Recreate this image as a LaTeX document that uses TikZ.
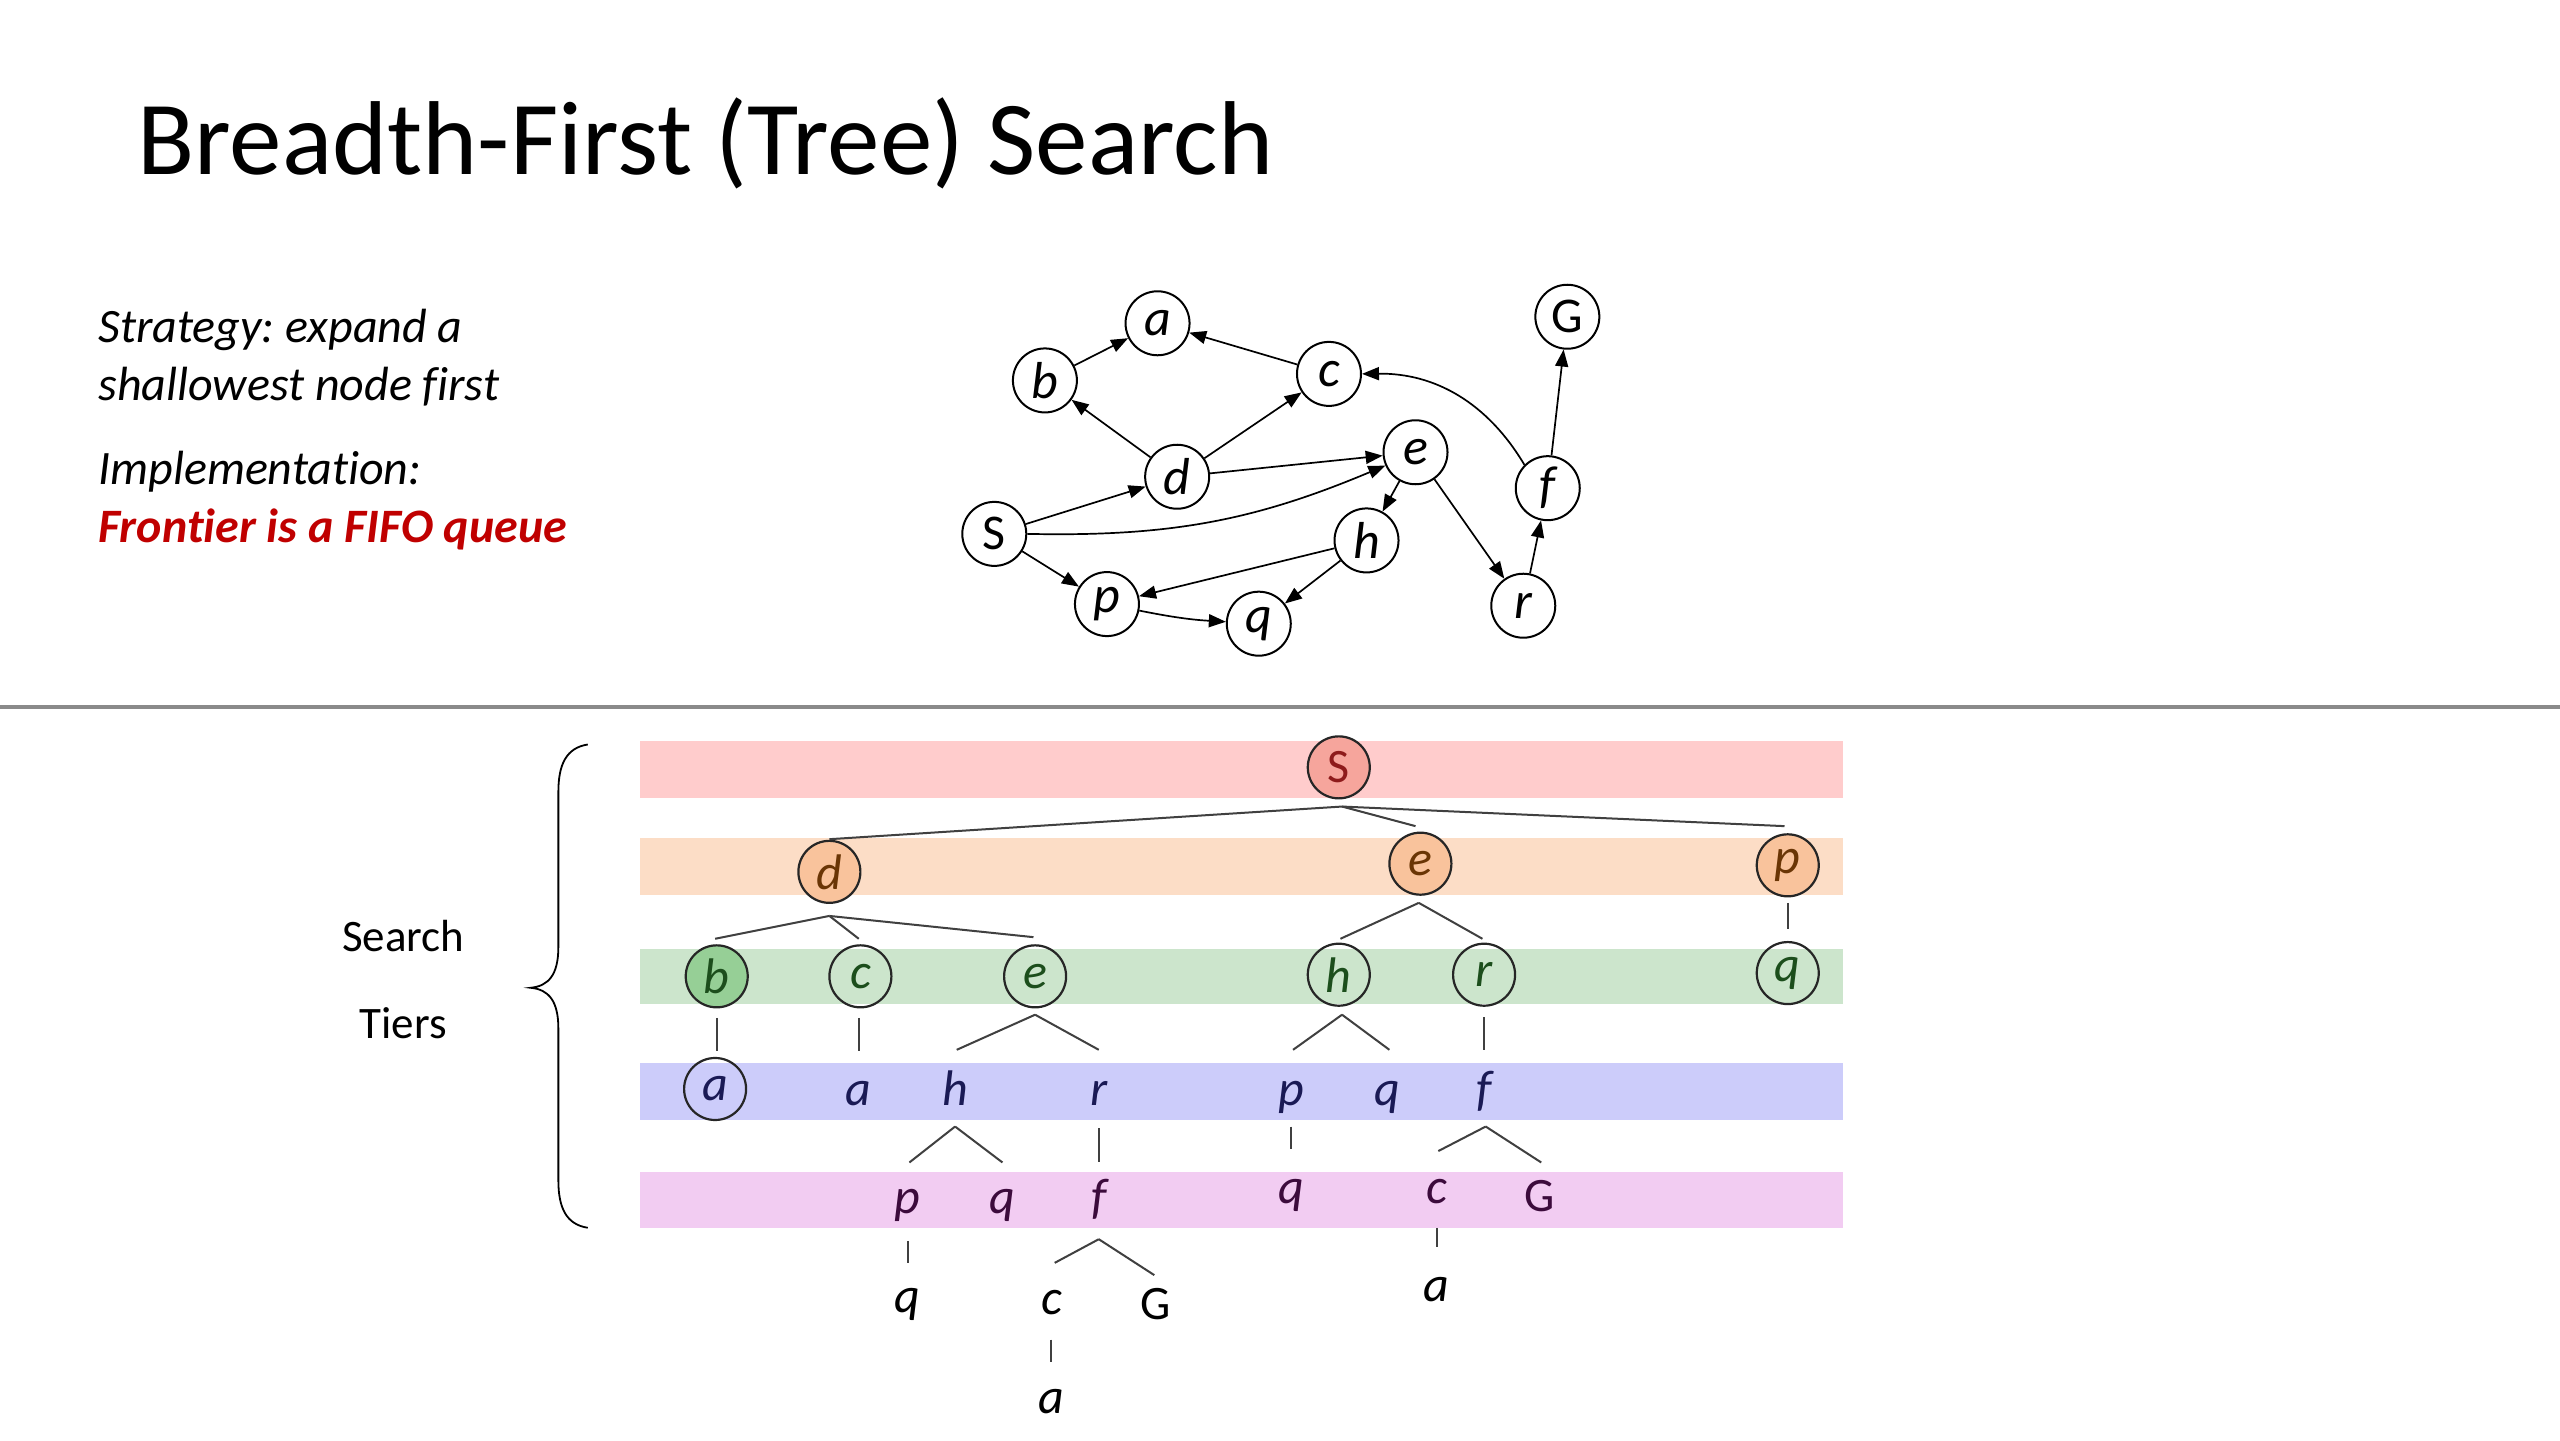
\documentclass[tikz,border=0pt]{standalone}
\usepackage{fontspec}
\setmainfont{Carlito}[Ligatures=NoCommon]
\frenchspacing
\usetikzlibrary{arrows.meta,calc}
\definecolor{bandred}{HTML}{FFCCCC}
\definecolor{bandorange}{HTML}{FCDDC6}
\definecolor{bandgreen}{HTML}{CCE5CC}
\definecolor{bandblue}{HTML}{CCCCFA}
\definecolor{bandpink}{HTML}{F2CCF2}
\definecolor{fillS}{HTML}{F6A59C}
\definecolor{fillO}{HTML}{F9C39C}
\definecolor{fillG}{HTML}{96CF96}
\definecolor{txtS}{HTML}{8E1B1B}
\definecolor{txtO}{HTML}{6A3505}
\definecolor{txtG}{HTML}{1C4E1C}
\definecolor{txtB}{HTML}{1A1A55}
\definecolor{txtP}{HTML}{3C0B3C}
\definecolor{redtxt}{HTML}{C00000}
\definecolor{sepgray}{HTML}{8A8A8A}
\begin{document}
\begin{tikzpicture}[x=0.8163pt,y=-0.8163pt,
  gnode/.style={circle,draw,line width=1pt,minimum size=32pt,inner sep=0pt,font=\fontsize{26}{26}\selectfont\itshape},
  garr/.style={-{Triangle[length=8.5pt,width=6.5pt]},line width=0.85pt},
  tnode/.style={circle,draw=black!85,line width=1.1pt,minimum size=31pt,inner sep=0pt,font=\fontsize{25}{25}\selectfont\itshape},
  tlab/.style={anchor=base,inner sep=0pt,font=\fontsize{25}{25}\selectfont\itshape},
  tl/.style={line width=1pt,draw=black!75},
  body/.style={anchor=base west,inner sep=0pt,font=\fontsize{24}{24}\selectfont\itshape}]
\useasboundingbox (0,0) rectangle (1568,882);
\fill[white] (0,0) rectangle (1568,882);
% title
\node[anchor=base west,inner sep=0pt,font=\fontsize{52.5}{52.5}\selectfont] (title) at (84,107) {Breadth-First (Tree) Search};
% left text
\node[body] (t1) at (60,210) {Strategy: expand a};
\node[body] (t2) at (60,245) {shallowest node first};
\node[body] (t3) at (60,297) {Implementation:};
\node[body,text=redtxt,font=\fontsize{24}{24}\selectfont\itshape\bfseries] (t4) at (60,332) {Frontier is a FIFO queue};
% graph
\node[gnode] (a) at (709,198) {a};
\node[gnode] (b) at (640,233) {b};
\node[gnode] (c) at (814,229) {c};
\node[gnode,font=\fontsize{25}{25}\selectfont] (G) at (960,194) {G};
\node[gnode] (d) at (721,292) {d};
\node[gnode] (e) at (867,277) {e};
\node[gnode] (f) at (948,299) {f};
\node[gnode,font=\fontsize{25}{25}\selectfont] (S) at (609,327) {S};
\node[gnode] (h) at (837,331) {h};
\node[gnode] (p) at (678,370) {p};
\node[gnode] (q) at (771,382) {q};
\node[gnode] (r) at (933,371) {r};
\draw[garr] (b) -- (a);
\draw[garr] (c) -- (a);
\draw[garr] (d) -- (b);
\draw[garr] (d) -- (c);
\draw[garr] (d) -- (e);
\draw[garr] (S) -- (d);
\draw[garr] (S.east) to[bend right=12] (e);
\draw[garr] (e) -- (h);
\draw[garr] (e) -- (r);
\draw[garr] (h) -- (p);
\draw[garr] (h) -- (q);
\draw[garr] (S) -- (p);
\draw[garr] (p) to[bend right=4] (q);
\draw[garr] (r) -- (f);
\draw[garr] (f) -- (G);
\draw[garr] (f.north west) to[bend right=30] (c.east);
% separator
\draw[sepgray,line width=1.6pt] (0,433) -- (1568,433);
% bands
\fill[bandred] (392,454) rectangle (1129,489);
\fill[bandorange] (392,513) rectangle (1129,548);
\fill[bandgreen] (392,581) rectangle (1129,615);
\fill[bandblue] (392,651) rectangle (1129,686);
\fill[bandpink] (392,718) rectangle (1129,752);
% brace and label
\draw[line width=0.9pt] (360,456) .. controls (347,458) and (342,468) .. (342,485) -- (342,580) .. controls (342,597) and (336,604) .. (325,605) .. controls (336,606) and (342,613) .. (342,630) -- (342,723) .. controls (342,740) and (347,750) .. (360,752);
\node[anchor=base,inner sep=0pt,font=\fontsize{22.5}{22.5}\selectfont] (lsearch) at (247,583) {Search};
\node[anchor=base,inner sep=0pt,font=\fontsize{22.5}{22.5}\selectfont] (ltiers) at (247,636) {Tiers};
% tree tier 0
\node[tnode,fill=fillS,text=txtS,font=\fontsize{24}{24}\selectfont] (t0S) at (820,470) {S};
% tier 1
\node[tnode,fill=fillO,text=txtO] (t1d) at (508,534) {d};
\node[tnode,fill=fillO,text=txtO] (t1e) at (870,529) {e};
\node[tnode,fill=fillO,text=txtO] (t1p) at (1095,530) {p};
% tier 2
\node[tnode,fill=fillG,text=txtG] (t2b) at (439,598) {b};
\node[tnode,text=txtG] (t2c) at (527,598) {c};
\node[tnode,text=txtG] (t2e) at (634,598) {e};
\node[tnode,text=txtG] (t2h) at (820,597) {h};
\node[tnode,text=txtG] (t2r) at (909,597) {r};
\node[tnode,text=txtG] (t2q) at (1095,596) {q};
% tier 3
\node[tnode,text=txtB] (t3a1) at (438,667) {a};
\node[tlab,text=txtB] (t3a2) at (526,677) {a};
\node[tlab,text=txtB] (t3h) at (585,677) {h};
\node[tlab,text=txtB] (t3r) at (673,677) {r};
\node[tlab,text=txtB] (t3p) at (791,677) {p};
\node[tlab,text=txtB] (t3q) at (850,677) {q};
\node[tlab,text=txtB] (t3f) at (909,677) {f};
% tier 4
\node[tlab,text=txtP] (t4p) at (556,743) {p};
\node[tlab,text=txtP] (t4q) at (614,743) {q};
\node[tlab,text=txtP] (t4f) at (673,743) {f};
\node[tlab,text=txtP] (t4q2) at (791,737) {q};
\node[tlab,text=txtP] (t4c) at (880,737) {c};
\node[tlab,text=txtP,font=\fontsize{24}{24}\selectfont] (t4G) at (943,742) {G};
% below
\node[tlab] (t5q) at (556,804) {q};
\node[tlab] (t5c) at (644,805) {c};
\node[tlab,font=\fontsize{24}{24}\selectfont] (t5G) at (708,808) {G};
\node[tlab] (t5a) at (880,797) {a};
\node[tlab] (t6a) at (644,866) {a};
% tree connectors
\draw[tl] ($(t0S)+(2,24)$) -- ($(t1d)+(0,-20)$);
\draw[tl] ($(t0S)+(2,24)$) -- ($(t1e)+(-3,-23)$);
\draw[tl] ($(t0S)+(2,24)$) -- ($(t1p)+(-2,-24)$);
\draw[tl] ($(t1d)+(0,27)$) -- ($(t2b)+(-1,-23)$);
\draw[tl] ($(t1d)+(0,27)$) -- ($(t2c)+(-1,-23)$);
\draw[tl] ($(t1d)+(0,27)$) -- ($(t2e)+(-1,-24)$);
\draw[tl] ($(t1e)+(-1,24)$) -- ($(t2h)+(1,-22)$);
\draw[tl] ($(t1e)+(-1,24)$) -- ($(t2r)+(-1,-22)$);
\draw[tl] ($(t1p)+(0,23)$) -- ($(t2q)+(0,-27)$);
\draw[tl] ($(t2b)+(0,25.5)$) -- ($(t3a1)+(1,-23)$);
\draw[tl] ($(t2c)+(-1,25.5)$) -- ($(t3a2.base)+(0,-33)$);
\draw[tl] ($(t2e)+(0,23.5)$) -- ($(t3h.base)+(1,-34)$);
\draw[tl] ($(t2e)+(0,23.5)$) -- ($(t3r.base)+(0,-34)$);
\draw[tl] ($(t2h)+(2,24.5)$) -- ($(t3p.base)+(1,-34)$);
\draw[tl] ($(t2h)+(2,24.5)$) -- ($(t3q.base)+(1,-34)$);
\draw[tl] ($(t2r)+(0,26)$) -- ($(t3f.base)+(0,-34)$);
\draw[tl] ($(t3h.base)+(0,13)$) -- ($(t4p.base)+(1,-31)$);
\draw[tl] ($(t3h.base)+(0,13)$) -- ($(t4q.base)+(0,-31)$);
\draw[tl] ($(t3r.base)+(0,14)$) -- ($(t4f.base)+(0,-31)$);
\draw[tl] ($(t3p.base)+(0,13)$) -- ($(t4q2.base)+(0,-33)$);
\draw[tl] ($(t3f.base)+(1,13)$) -- ($(t4c.base)+(1,-32)$);
\draw[tl] ($(t3f.base)+(1,13)$) -- ($(t4G.base)+(1,-30)$);
\draw[tl] ($(t4p.base)+(0,17)$) -- ($(t5q.base)+(0,-30.5)$);
\draw[tl] ($(t4f.base)+(0,16)$) -- ($(t5c.base)+(2,-31.5)$);
\draw[tl] ($(t4f.base)+(0,16)$) -- ($(t5G.base)+(-1,-27)$);
\draw[tl] ($(t4c.base)+(0,15)$) -- ($(t5a.base)+(0,-33)$);
\draw[tl] ($(t5c.base)+(0,15.5)$) -- ($(t6a.base)+(0,-32)$);
\end{tikzpicture}
\end{document}
